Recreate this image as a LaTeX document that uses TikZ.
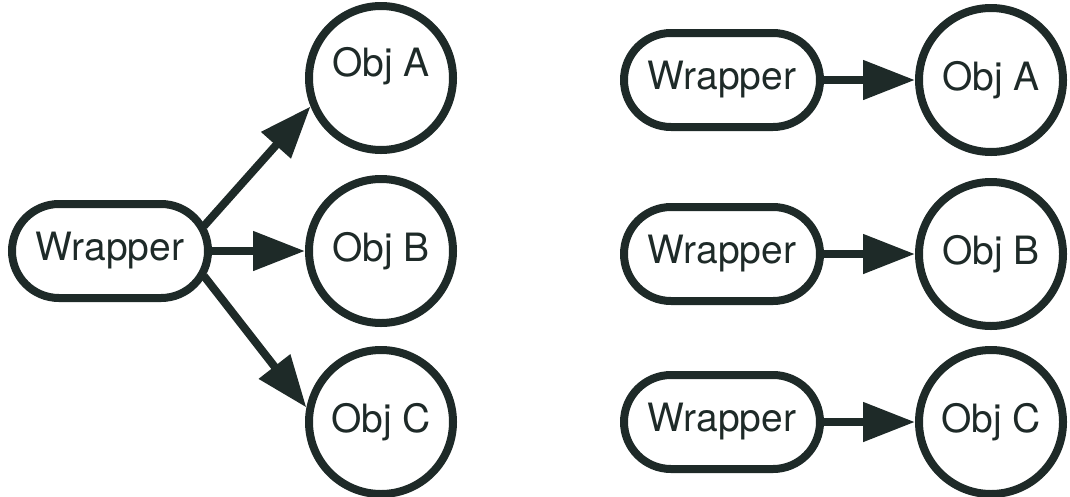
\documentclass[tikz,border=0pt]{standalone}
\usepackage{fontspec}
\setmainfont{TeX Gyre Heros}
\usetikzlibrary{arrows.meta,shapes.misc,calc}
\definecolor{ink}{RGB}{30,42,40}
\begin{document}
\begin{tikzpicture}[x=1pt,y=-1pt,
  every node/.style={font=\fontsize{39}{46}\selectfont, text=ink},
  obj/.style={circle, draw=ink, line width=8pt, minimum size=144pt, inner sep=0pt},
  wrap/.style={rounded rectangle, draw=ink, line width=8pt, minimum width=196pt, minimum height=94pt, inner sep=0pt},
  conn/.style={draw=ink, line width=8pt, -{Triangle[length=52pt,width=38pt]}}]
\useasboundingbox (0,0) rectangle (1070,496);
% left
\node[wrap] (W) at (110,251) {Wrapper};
\node[obj] (A) at (381,78) {};
\node[anchor=center] (At) at (381,66) {Obj A};
\node[obj] (B) at (381,251) {Obj B};
\node[obj] (C) at (381,422) {Obj C};
\coordinate (Wu) at ($(W.east)+(-8,-25)$);
\coordinate (Wd) at ($(W.east)+(-8,25)$);
\draw[conn] (Wu) -- (A.202);
\draw[conn] (W.east) -- (B.west);
\draw[conn] (Wd) -- (C.169);
% right
\node[wrap] (W1) at (722,80) {Wrapper};
\node[wrap] (W2) at (722,254) {Wrapper};
\node[wrap] (W3) at (722,422) {Wrapper};
\node[obj] (A1) at (991,80) {Obj A};
\node[obj] (B1) at (991,254) {Obj B};
\node[obj] (C1) at (991,422) {Obj C};
\draw[conn] (W1.east) -- (A1.west);
\draw[conn] (W2.east) -- (B1.west);
\draw[conn] (W3.east) -- (C1.west);
\end{tikzpicture}
\end{document}
